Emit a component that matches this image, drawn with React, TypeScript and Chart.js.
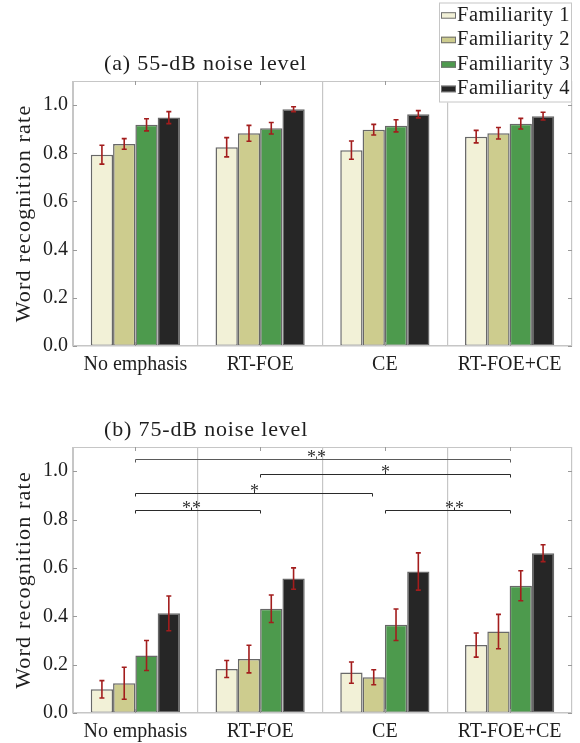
import React, { useEffect, useRef } from 'react';
import { Chart, registerables } from 'chart.js';

Chart.register(...registerables);

const categories = ['No emphasis', 'RT-FOE', 'CE', 'RT-FOE+CE'];
const seriesLabels = ['Familiarity 1', 'Familiarity 2', 'Familiarity 3', 'Familiarity 4'];
const seriesColors = ['#f2f1d7', '#cdcc8e', '#4d9a4d', '#262626'];

// (a) 55-dB noise level: mean word recognition rate per familiarity, across categories
const fam1_55 = [0.794, 0.825, 0.813, 0.869];
const fam2_55 = [0.839, 0.883, 0.898, 0.883];
const fam3_55 = [0.918, 0.904, 0.914, 0.923];
const fam4_55 = [0.948, 0.983, 0.962, 0.954];
const err1_55 = [0.039, 0.04, 0.038, 0.026];
const err2_55 = [0.022, 0.033, 0.022, 0.024];
const err3_55 = [0.025, 0.024, 0.025, 0.022];
const err4_55 = [0.025, 0.01, 0.015, 0.016];

// (b) 75-dB noise level
const fam1_75 = [0.098, 0.182, 0.167, 0.281];
const fam2_75 = [0.123, 0.223, 0.148, 0.337];
const fam3_75 = [0.238, 0.431, 0.365, 0.526];
const fam4_75 = [0.412, 0.556, 0.585, 0.661];
const err1_75 = [0.036, 0.035, 0.044, 0.05];
const err2_75 = [0.066, 0.057, 0.031, 0.071];
const err3_75 = [0.062, 0.057, 0.065, 0.062];
const err4_75 = [0.072, 0.044, 0.077, 0.035];

// significance brackets for (b), in category units
const bracketFrom = [0, 1, 0, 0, 2];
const bracketTo = [3, 3, 1.9, 1, 3];
const bracketLevel = [1.052, 0.989, 0.911, 0.838, 0.838];
const bracketMid = [1.445, 2.0, 0.953, 0.443, 2.557];
const bracketLabel = ['**', '*', '*', '**', '**'];

const yMin = 0;
const yMax = 1.1;
const yStep = 0.1;
const yTitle = 'Word recognition rate';

const FONT = "'Liberation Serif', 'Times New Roman', serif";
const FRAME = '#c6c6c6';
const TEXT = '#1e1e1e';

function makeDatasets(vals: number[][], errs: number[][]) {
  return vals.map((v, i) => ({
    label: seriesLabels[i],
    data: v,
    errors: errs[i],
    backgroundColor: seriesColors[i],
    borderColor: '#686868',
    borderWidth: 1.5,
    borderSkipped: false as const,
    categoryPercentage: 0.715,
    barPercentage: 1.0,
  }));
}

function decorPlugin(title: string, withBrackets: boolean, withLegend: boolean) {
  return {
    id: 'decor',
    afterDatasetsDraw(chart: any) {
      const { ctx, chartArea } = chart;
      const yS = chart.scales.y;
      const xS = chart.scales.x;
      ctx.save();
      // error bars
      chart.data.datasets.forEach((ds: any, di: number) => {
        const meta = chart.getDatasetMeta(di);
        meta.data.forEach((bar: any, j: number) => {
          const v = ds.data[j];
          const e = ds.errors[j];
          const x = bar.x;
          const y1 = yS.getPixelForValue(v - e);
          const y2 = yS.getPixelForValue(v + e);
          ctx.strokeStyle = '#a31d1d';
          ctx.lineWidth = 1.6;
          ctx.beginPath();
          ctx.moveTo(x, y1);
          ctx.lineTo(x, y2);
          ctx.moveTo(x - 2.5, y1);
          ctx.lineTo(x + 2.5, y1);
          ctx.moveTo(x - 2.5, y2);
          ctx.lineTo(x + 2.5, y2);
          ctx.stroke();
        });
      });
      // frame
      ctx.strokeStyle = FRAME;
      ctx.lineWidth = 1;
      ctx.strokeRect(chartArea.left + 0.5, chartArea.top + 0.5, chartArea.right - chartArea.left - 1, chartArea.bottom - chartArea.top - 1);
      // inside ticks
      ctx.strokeStyle = '#9a9a9a';
      ctx.lineWidth = 1;
      ctx.beginPath();
      yS.ticks.forEach((t: any) => {
        const py = Math.round(yS.getPixelForValue(t.value)) + 0.5;
        ctx.moveTo(chartArea.left, py);
        ctx.lineTo(chartArea.left + 4, py);
        ctx.moveTo(chartArea.right - 4, py);
        ctx.lineTo(chartArea.right, py);
      });
      categories.forEach((_c, i) => {
        const px = Math.round(xS.getPixelForValue(i)) + 0.5;
        ctx.moveTo(px, chartArea.top);
        ctx.lineTo(px, chartArea.top + 4);
        ctx.moveTo(px, chartArea.bottom);
        ctx.lineTo(px, chartArea.bottom - 4);
      });
      ctx.stroke();
      // brackets
      if (withBrackets) {
        bracketFrom.forEach((f, k) => {
          const xa = Math.round(xS.getPixelForValue(f)) + 0.5;
          const xb = Math.round(xS.getPixelForValue(bracketTo[k])) + 0.5;
          const xm = Math.round(xS.getPixelForValue(bracketMid[k])) + 0.5;
          const yy = Math.round(yS.getPixelForValue(bracketLevel[k])) + 0.5;
          ctx.strokeStyle = k === 0 ? '#5a5a5a' : '#2a2a2a';
          ctx.lineWidth = 1;
          ctx.beginPath();
          ctx.moveTo(xa, yy + 3);
          ctx.lineTo(xa, yy);
          ctx.lineTo(xb, yy);
          ctx.lineTo(xb, yy + 3);
          ctx.moveTo(xm, yy);
          ctx.lineTo(xm, yy - 3);
          ctx.stroke();
          ctx.fillStyle = '#333';
          ctx.font = `18px ${FONT}`;
          (ctx as any).letterSpacing = '1px';
          ctx.textAlign = 'center';
          ctx.textBaseline = 'alphabetic';
          ctx.fillText(bracketLabel[k], xm + 0.5, yy + 3);
          (ctx as any).letterSpacing = '0px';
        });
      }
      // panel title
      ctx.fillStyle = TEXT;
      ctx.font = `22px ${FONT}`;
      (ctx as any).letterSpacing = '0.85px';
      ctx.textAlign = 'left';
      ctx.textBaseline = 'alphabetic';
      ctx.fillText(title, chartArea.left + 31, chartArea.top - 11);
      // y-axis title
      ctx.save();
      (ctx as any).letterSpacing = '1.2px';
      ctx.translate(29.5, (chartArea.top + chartArea.bottom) / 2);
      ctx.rotate(-Math.PI / 2);
      ctx.textAlign = 'center';
      ctx.fillText(yTitle, 0, 0);
      ctx.restore();
      (ctx as any).letterSpacing = '0px';
      ctx.restore();
    },
    afterDraw(chart: any) {
      if (!withLegend) return;
      const { ctx, chartArea } = chart;
      const w = 133;
      const h = 100;
      const x0 = chartArea.right - w;
      const y0 = 2.5;
      ctx.save();
      ctx.fillStyle = '#ffffff';
      ctx.fillRect(x0, y0, w, h);
      ctx.strokeStyle = FRAME;
      ctx.lineWidth = 1;
      ctx.strokeRect(x0 + 0.5, y0 + 0.5, w - 1, h - 1);
      chart.data.datasets.forEach((ds: any, i: number) => {
        const base = 20.7 + 24.5 * i;
        ctx.fillStyle = ds.backgroundColor;
        ctx.fillRect(x0 + 2, base - 8.5, 15, 6.5);
        ctx.strokeStyle = '#707070';
        ctx.strokeRect(x0 + 2.5, base - 8, 14, 5.5);
        ctx.fillStyle = TEXT;
        ctx.font = `20.5px ${FONT}`;
        (ctx as any).letterSpacing = '0.5px';
        ctx.textAlign = 'left';
        ctx.textBaseline = 'alphabetic';
        ctx.fillText(ds.label, x0 + 18, base);
        (ctx as any).letterSpacing = '0px';
      });
      ctx.restore();
    },
  };
}

function makeConfig(vals: number[][], errs: number[][], title: string, padTop: number, xAxisHeight: number, withBrackets: boolean, withLegend: boolean): any {
  return {
    type: 'bar',
    data: { labels: categories, datasets: makeDatasets(vals, errs) },
    options: {
      animation: false,
      responsive: false,
      layout: { padding: { left: 0, right: 8, top: padTop, bottom: 0 } },
      plugins: { legend: { display: false }, title: { display: false }, tooltip: { enabled: false } },
      scales: {
        x: {
          grid: { display: true, offset: true, color: FRAME, lineWidth: 1.2, drawTicks: false },
          border: { display: true, color: FRAME, width: 1.5 },
          ticks: { color: TEXT, font: { family: FONT, size: 20 }, padding: 7, maxRotation: 0 },
          afterFit: (s: any) => { s.height = xAxisHeight; },
        },
        y: {
          min: yMin,
          max: yMax,
          grid: { display: false, drawTicks: false },
          border: { display: true, color: FRAME, width: 1 },
          ticks: {
            stepSize: yStep,
            maxTicksLimit: 50,
            padding: 5,
            color: TEXT,
            font: { family: FONT, size: 20 },
            callback: (v: number) => (Math.round(v * 10) % 2 === 0 ? v.toFixed(1) : ''),
          },
          afterFit: (s: any) => { s.width = 73; },
        },
      },
    },
    plugins: [decorPlugin(title, withBrackets, withLegend)],
  };
}

export default function App() {
  const topRef = useRef<HTMLCanvasElement | null>(null);
  const botRef = useRef<HTMLCanvasElement | null>(null);

  useEffect(() => {
    const c1 = new Chart(
      topRef.current as HTMLCanvasElement,
      makeConfig([fam1_55, fam2_55, fam3_55, fam4_55], [err1_55, err2_55, err3_55, err4_55], '(a) 55-dB noise level', 81, 44, false, true)
    );
    const c2 = new Chart(
      botRef.current as HTMLCanvasElement,
      makeConfig([fam1_75, fam2_75, fam3_75, fam4_75], [err1_75, err2_75, err3_75, err4_75], '(b) 75-dB noise level', 57, 30, true, false)
    );
    return () => {
      c1.destroy();
      c2.destroy();
    };
  }, []);

  return (
    <div style={{ position: 'absolute', left: 0, top: 0, width: 580, height: 743, background: '#fff' }}>
      <canvas ref={topRef} width={580} height={390} style={{ display: 'block', width: 580, height: 390 }} />
      <canvas ref={botRef} width={580} height={353} style={{ display: 'block', width: 580, height: 353 }} />
    </div>
  );
}
